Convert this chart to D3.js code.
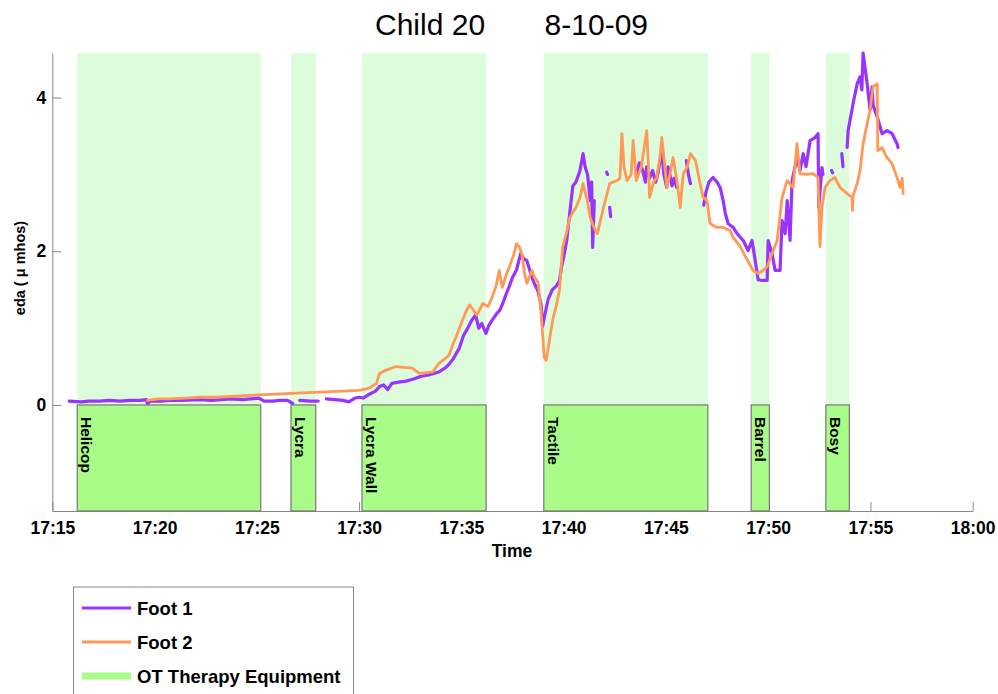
<!DOCTYPE html>
<html>
<head>
<meta charset="utf-8">
<script src="https://cdn.jsdelivr.net/npm/d3@7"></script>
<style>
  body { margin: 0; background: #fff; }
  svg { display: block; font-family: "Liberation Sans", Arial, sans-serif; }
</style>
</head>
<body>
<div id="chart"></div>
<script>
// minutes after 17:00, eda value; null breaks the line
const foot1 = [
  [15.83,0.05],[16.4,0.04],[16.8,0.05],[17.3,0.05],[17.8,0.06],[18.3,0.05],[18.8,0.06],[19.3,0.06],[19.6,0.07],[19.65,0.02],
  [19.8,0.05],[20.3,0.05],[20.7,0.06],[21.3,0.06],[22.2,0.07],[22.8,0.06],[23.7,0.08],[24.3,0.07],[25.1,0.09],[25.35,0.05],
  [25.8,0.05],[26.1,0.06],[26.5,0.06],[26.75,0.02], null,
  [27.1,0.06],[27.6,0.05],[28.0,0.05], null,
  [28.4,0.08],[28.8,0.07],[29.2,0.06],[29.5,0.04],[29.8,0.09],[30.0,0.1],[30.2,0.09],[30.5,0.14],[30.8,0.18],[31.0,0.24],
  [31.2,0.26],[31.4,0.2],[31.6,0.28],[32.0,0.3],[32.3,0.31],[32.7,0.34],[33.0,0.37],[33.4,0.39],[33.9,0.43],[34.2,0.48],
  [34.4,0.53],[34.6,0.6],[34.9,0.74],[35.1,0.9],[35.25,0.97],[35.5,1.1],[35.7,1.17],[35.85,1.0],[36.0,1.06],[36.2,0.93],
  [36.35,1.04],[36.5,1.1],[36.7,1.18],[36.9,1.24],[37.05,1.34],[37.2,1.45],[37.35,1.55],[37.5,1.66],[37.7,1.76],[37.9,1.97],
  [38.05,1.9],[38.2,1.88],[38.45,1.66],[38.6,1.56],[38.75,1.48],[38.9,1.3],[38.97,1.02],[39.1,1.2],[39.25,1.38],[39.45,1.5],
  [39.65,1.55],[39.8,1.62],[39.9,1.8],[40.0,1.92],[40.15,2.14],[40.3,2.5],[40.45,2.85],[40.6,2.9],[40.8,3.05],[40.95,3.27],
  [41.05,3.1],[41.17,3.0],[41.3,2.66],[41.37,2.9],[41.42,2.05],[41.5,2.66], null,
  [42.1,3.03],[42.15,3.0], null,
  [42.25,2.57],[42.3,2.45], null,
  [43.55,3.0],[43.7,3.15],[43.87,3.05],[44.0,2.9],[44.06,3.1],[44.2,2.95],[44.35,3.05],[44.5,2.9],[44.6,3.0],[44.8,3.31],
  [44.9,3.0],[45.04,2.83],[45.1,3.1],[45.19,3.0],[45.3,2.85],[45.4,2.95],[45.53,2.83], null,
  [46.0,3.18],[46.1,3.0],[46.2,2.88], null,
  [46.85,2.6],[46.95,2.76],[47.1,2.9],[47.3,2.96],[47.5,2.9],[47.65,2.83],[47.8,2.66],[47.9,2.5],[48.04,2.36],[48.29,2.31],
  [48.48,2.23],[48.78,2.14],[49.02,2.01],[49.21,2.14],[49.36,1.89],[49.51,1.63],[49.7,1.62],[49.95,1.62],[50.0,2.14],[50.19,1.97],
  [50.34,1.75],[50.58,1.75],[50.68,2.4],[50.83,2.23],[50.93,2.66],[51.07,2.14],[51.17,2.92],[51.41,3.22],[51.56,3.05],[51.71,3.27],
  [51.85,3.1],[52.05,3.44],[52.29,3.48],[52.44,3.53],[52.47,2.57],[52.63,3.09],[52.68,3.0], null,
  [53.1,3.05],[53.15,3.02], null,
  [53.6,3.27],[53.66,3.1], null,
  [53.86,3.35],[53.91,3.57],[54.15,3.92],[54.35,4.18],[54.49,4.27],[54.58,4.1],[54.64,4.58],[54.84,4.18],[54.98,3.84],[55.08,4.14],
  [55.13,3.9],[55.33,3.75],[55.57,3.53],[55.81,3.57],[56.06,3.53],[56.3,3.4],[56.35,3.35]
];

const foot2 = [
  [19.65,0.06],[20.2,0.08],[20.7,0.08],[21.5,0.09],[22.2,0.1],[23.0,0.1],[23.7,0.11],[24.4,0.12],[25.1,0.13],[25.9,0.14],
  [26.7,0.15],[27.5,0.16],[28.3,0.17],[29.2,0.18],[30.0,0.19],[30.5,0.22],[30.85,0.28],[31.0,0.41],[31.3,0.45],[31.8,0.5],
  [32.2,0.49],[32.6,0.48],[32.95,0.41],[33.3,0.42],[33.6,0.43],[33.9,0.54],[34.2,0.6],[34.4,0.65],[34.6,0.8],[34.75,0.89],
  [35.05,1.1],[35.25,1.23],[35.4,1.3],[35.55,1.25],[35.75,1.17],[36.05,1.32],[36.3,1.28],[36.5,1.4],[36.7,1.55],[36.85,1.75],
  [37.0,1.53],[37.2,1.7],[37.35,1.8],[37.55,1.95],[37.7,2.1],[37.85,2.05],[37.95,1.97],[38.1,1.7],[38.2,1.58],[38.45,1.75],
  [38.6,1.65],[38.75,1.6],[38.9,1.2],[39.05,0.62],[39.15,0.58],[39.25,0.75],[39.46,1.1],[39.65,1.3],[39.8,1.5],[39.95,2.05],
  [40.15,2.25],[40.3,2.44],[40.6,2.57],[40.8,2.7],[40.95,2.88],[41.15,2.66],[41.3,2.44],[41.5,2.3],[41.65,2.23],[41.8,2.4],
  [41.95,2.57],[42.25,2.88],[42.6,2.92],[42.75,2.95],[42.85,3.53],[42.95,3.1],[43.1,2.92],[43.3,3.0],[43.4,3.44],[43.55,2.92],
  [43.8,3.1],[44.06,3.57],[44.15,3.1],[44.2,2.7],[44.4,2.9],[44.55,2.96],[44.7,3.2],[44.8,3.48],[44.95,3.1],[45.04,2.83],
  [45.2,3.0],[45.35,3.22],[45.55,2.9],[45.7,2.57],[45.85,3.01],[46.05,3.1],[46.2,3.27],[46.45,3.18],[46.67,2.88],[46.82,2.7],
  [47.01,2.66],[47.16,2.36],[47.5,2.31],[47.8,2.31],[48.14,2.27],[48.29,2.18],[48.63,2.06],[48.97,1.89],[49.26,1.75],[49.51,1.71],
  [49.7,1.74],[49.95,1.8],[50.19,1.97],[50.44,2.14],[50.68,2.7],[50.93,2.92],[51.22,2.83],[51.41,3.4],[51.56,3.01],[51.9,3.0],
  [52.19,3.01],[52.44,2.96],[52.53,2.06],[52.63,2.57],[52.78,2.83],[53.02,2.92],[53.26,2.96],[53.51,2.83],[53.86,2.75],[54.1,2.7],
  [54.12,2.53],[54.15,2.72],[54.35,2.88],[54.49,3.05],[54.64,3.4],[54.84,3.66],[54.98,3.84],[55.13,4.14],[55.33,4.18],[55.36,3.31],
  [55.57,3.35],[55.81,3.22],[56.06,3.14],[56.3,2.96],[56.45,2.83],[56.55,2.95],[56.6,2.75]
];

const eventNames = ["Helicop", "Lycra", "Lycra Wall", "Tactile", "Barrel", "Bosy"];
const eventStart = [16.22, 26.67, 30.14, 39.03, 49.17, 52.82];
const eventEnd = [25.19, 27.88, 36.21, 47.05, 50.06, 53.97];

const yTicks = [0, 2, 4];
const legendLabels = ["Foot 1", "Foot 2", "OT Therapy Equipment"];

const width = 998, height = 694;
const colors = { foot1: "#9933ff", foot2: "#ff9955", shade: "#ddfcdc", box: "#aafc88" };

const toTime = m => new Date(new Date(2009, 7, 10, 17, 0, 0).getTime() + m * 60000);

const svg = d3.select("#chart").append("svg")
  .attr("width", width)
  .attr("height", height);

const x = d3.scaleTime()
  .domain([toTime(15), toTime(60)])
  .range([52.3, 972.7]);

const y = d3.scaleLinear()
  .domain([-1.38, 4.58])
  .range([511, 53]);

// light event shading above zero
svg.append("g").selectAll("rect")
  .data(eventNames)
  .join("rect")
  .attr("x", (d, i) => x(toTime(eventStart[i])))
  .attr("width", (d, i) => x(toTime(eventEnd[i])) - x(toTime(eventStart[i])))
  .attr("y", y.range()[1])
  .attr("height", y(0) - y.range()[1])
  .attr("fill", colors.shade);

// axes
const xAxis = svg.append("g")
  .attr("transform", `translate(0,${y.range()[0]})`)
  .call(d3.axisBottom(x)
    .ticks(d3.timeMinute.every(5))
    .tickFormat(d3.timeFormat("%H:%M"))
    .tickSizeInner(-9)
    .tickSizeOuter(0)
    .tickPadding(10.5));

const yAxis = svg.append("g")
  .attr("transform", `translate(${x.range()[0]},0)`)
  .call(d3.axisLeft(y)
    .tickValues(yTicks)
    .tickFormat(d3.format("d"))
    .tickSizeInner(-9)
    .tickSizeOuter(0)
    .tickPadding(6));

[xAxis, yAxis].forEach(g => {
  g.select(".domain").attr("stroke", "#888");
  g.selectAll(".tick line").attr("stroke", "#888");
  g.selectAll(".tick text")
    .attr("fill", "#000")
    .style("font-size", "17.5px")
    .style("font-weight", "bold")
    .style("font-family", "'Liberation Sans', Arial, sans-serif");
});

// event boxes below zero
const boxes = svg.append("g").selectAll("g")
  .data(eventNames)
  .join("g");

boxes.append("rect")
  .attr("x", (d, i) => x(toTime(eventStart[i])))
  .attr("width", (d, i) => x(toTime(eventEnd[i])) - x(toTime(eventStart[i])))
  .attr("y", y(0))
  .attr("height", y.range()[0] - y(0))
  .attr("fill", colors.box)
  .attr("stroke", "#777")
  .attr("stroke-width", 1.2);

boxes.append("text")
  .attr("transform", (d, i) => `translate(${x(toTime(eventStart[i])) + 4},${y(0) + 12}) rotate(90)`)
  .style("font-size", "15.5px")
  .style("font-weight", "bold")
  .attr("fill", "#000")
  .text(d => d);

// lines
const line = d3.line()
  .defined(d => d !== null)
  .x(d => x(toTime(d[0])))
  .y(d => y(d[1]));

svg.append("path")
  .datum(foot1)
  .attr("fill", "none")
  .attr("stroke", colors.foot1)
  .attr("stroke-width", 3.2)
  .attr("stroke-linejoin", "round")
  .attr("stroke-linecap", "round")
  .attr("d", line);

svg.append("path")
  .datum(foot2)
  .attr("fill", "none")
  .attr("stroke", colors.foot2)
  .attr("stroke-width", 2.8)
  .attr("stroke-linejoin", "round")
  .attr("stroke-linecap", "round")
  .attr("d", line);

// title
svg.append("text")
  .attr("x", 375)
  .attr("y", 35)
  .style("font-size", "30px")
  .attr("fill", "#000")
  .text("Child 20");

svg.append("text")
  .attr("x", 648)
  .attr("y", 35)
  .attr("text-anchor", "end")
  .style("font-size", "30px")
  .attr("fill", "#000")
  .text("8-10-09");

// axis labels
svg.append("text")
  .attr("x", 512)
  .attr("y", 557)
  .attr("text-anchor", "middle")
  .style("font-size", "17.5px")
  .style("font-weight", "bold")
  .text("Time");

svg.append("text")
  .attr("transform", "translate(25,268) rotate(-90)")
  .attr("text-anchor", "middle")
  .style("font-size", "14.5px")
  .style("font-weight", "bold")
  .text("eda ( μ mhos)");

// legend
const legend = svg.append("g");
legend.append("rect")
  .attr("x", 73.5)
  .attr("y", 587)
  .attr("width", 280)
  .attr("height", 140)
  .attr("fill", "#fff")
  .attr("stroke", "#888");

const legendColors = [colors.foot1, colors.foot2, colors.box];
const legendWidths = [3, 3, 7];
legendLabels.forEach((label, i) => {
  const ly = 608 + i * 34;
  legend.append("line")
    .attr("x1", 82).attr("x2", 131)
    .attr("y1", ly).attr("y2", ly)
    .attr("stroke", legendColors[i])
    .attr("stroke-width", legendWidths[i]);
  legend.append("text")
    .attr("x", 137)
    .attr("y", ly + 6.5)
    .style("font-size", "18.5px")
    .style("font-weight", "bold")
    .text(label);
});
</script>
</body>
</html>
